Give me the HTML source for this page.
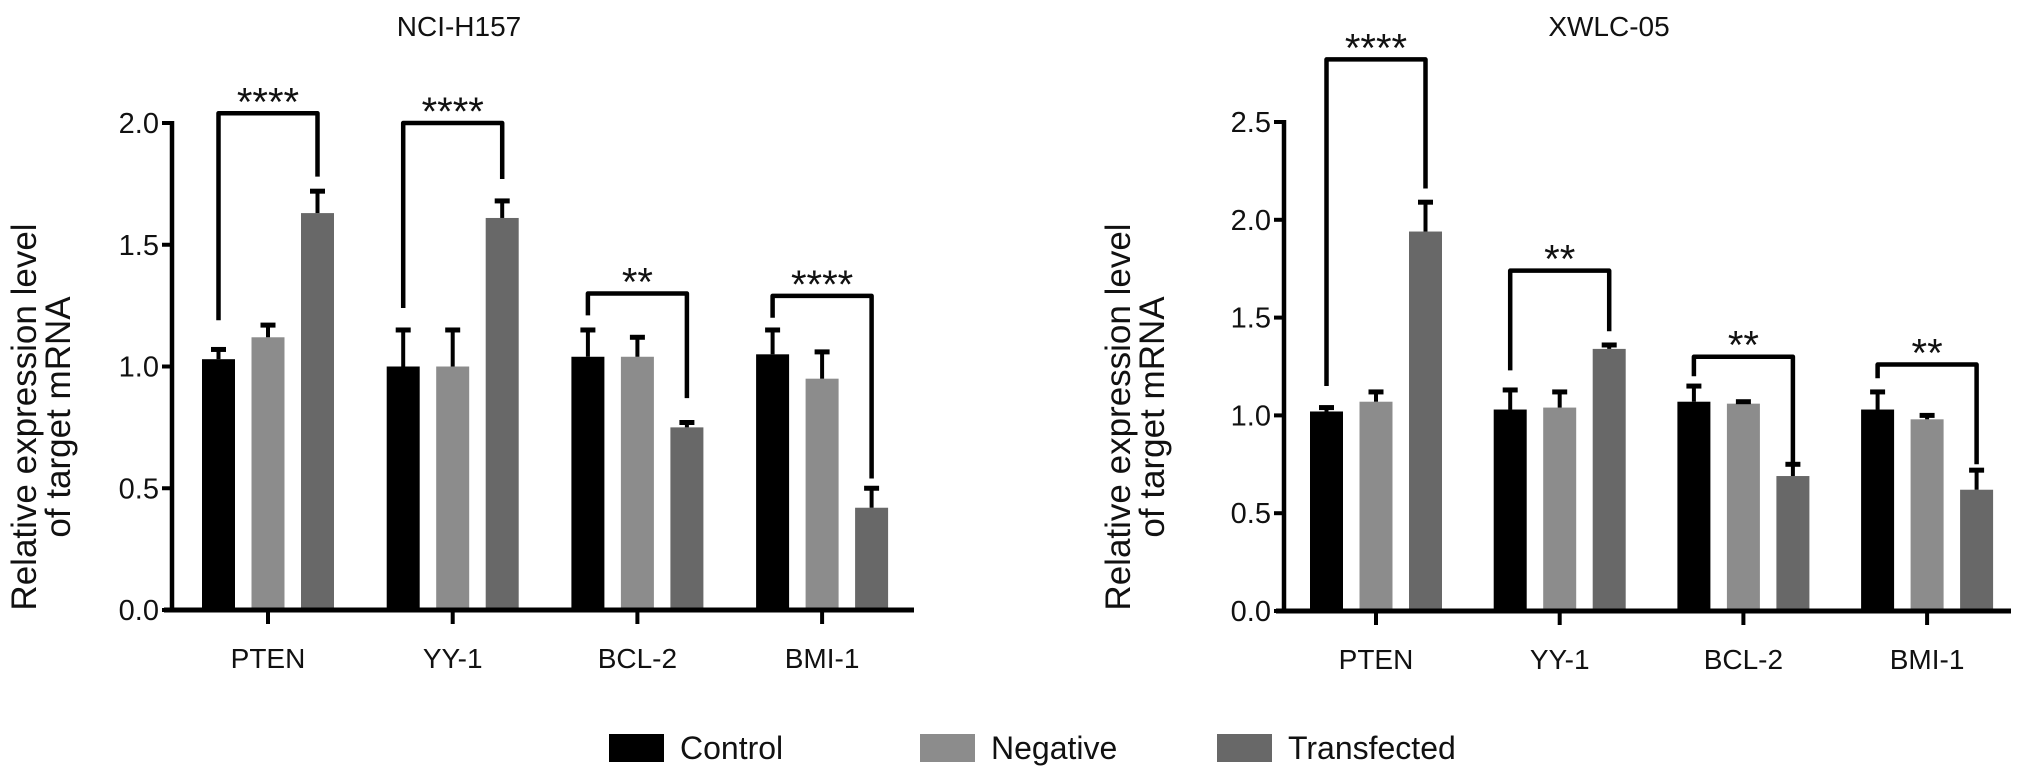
<!DOCTYPE html>
<html><head><meta charset="utf-8"><style>
html,body{margin:0;padding:0;background:#fff;}
svg{display:block;font-family:"Liberation Sans",Arial,sans-serif;}
</style></head><body>
<svg id="fig" width="2032" height="779" viewBox="0 0 2032 779" xmlns="http://www.w3.org/2000/svg"></svg>
<script>
const categories = ["PTEN","YY-1","BCL-2","BMI-1"];
const seriesNames = ["Control","Negative","Transfected"];
const seriesColors = ["#000000","#8c8c8c","#686868"];
// Left panel NCI-H157
const leftControl = [1.03,1.00,1.04,1.05];
const leftControlErr = [0.04,0.15,0.11,0.10];
const leftNegative = [1.12,1.00,1.04,0.95];
const leftNegativeErr = [0.05,0.15,0.08,0.11];
const leftTransfected = [1.63,1.61,0.75,0.42];
const leftTransfectedErr = [0.09,0.07,0.02,0.08];
const leftTicks = [0.0,0.5,1.0,1.5,2.0];
const leftTickLabels = ["0.0","0.5","1.0","1.5","2.0"];
const leftSig = ["****","****","**","****"];
const leftBracketTop = [2.04,2.00,1.30,1.29];
const leftBracketLeft = [1.19,1.24,1.21,1.20];
const leftBracketRight = [1.78,1.77,0.87,0.54];
// Right panel XWLC-05
const rightControl = [1.02,1.03,1.07,1.03];
const rightControlErr = [0.02,0.10,0.08,0.09];
const rightNegative = [1.07,1.04,1.06,0.98];
const rightNegativeErr = [0.05,0.08,0.01,0.02];
const rightTransfected = [1.94,1.34,0.69,0.62];
const rightTransfectedErr = [0.15,0.02,0.06,0.10];
const rightTicks = [0.0,0.5,1.0,1.5,2.0,2.5];
const rightTickLabels = ["0.0","0.5","1.0","1.5","2.0","2.5"];
const rightSig = ["****","**","**","**"];
const rightBracketTop = [2.82,1.74,1.30,1.26];
const rightBracketLeft = [1.15,1.23,1.20,1.19];
const rightBracketRight = [2.16,1.43,0.76,0.75];

const NS="http://www.w3.org/2000/svg";
const svg=document.getElementById('fig');
function mk(tag,attrs,parent){const e=document.createElementNS(NS,tag);for(const k in attrs)e.setAttribute(k,attrs[k]);(parent||svg).appendChild(e);return e;}

function panel(cfg){
  const g=mk('g',{});
  
  
  const y=v=>cfg.y0-(v/cfg.vmax)*(cfg.y0-cfg.yTop);
  const cx=i=>cfg.c0+i*cfg.step;
  const t=mk('text',{x:cfg.titleX,y:36,'font-size':28,'text-anchor':'middle',fill:'#111'},g);
  t.textContent=cfg.title;
  
  
  const yt=mk('text',{transform:`translate(${cfg.ytX},${cfg.ytY}) rotate(-90)`,'font-size':35,'text-anchor':'middle',fill:'#111'},g);
  
  
  const s1=mk('tspan',{x:0,dy:0},yt);s1.textContent='Relative expression level';
  const s2=mk('tspan',{x:0,dy:34},yt);s2.textContent='of target mRNA';
  const vals=[cfg.c,cfg.n,cfg.t], errs=[cfg.ce,cfg.ne,cfg.te];
  categories.forEach((cat,i)=>{
    for(let s=0;s<3;s++){
      const bx=cx(i)+(s-1)*49.5-16.5;
      const top=y(vals[s][i]);
      const r=mk('rect',{x:bx,y:top,width:33,height:cfg.y0-top,fill:seriesColors[s]},g);
      
      
      const et=y(vals[s][i]+errs[s][i]);
      const el=mk('line',{x1:bx+16.5,x2:bx+16.5,y1:top,y2:et,stroke:'#000','stroke-width':4},g);
      
      
      const cap=mk('line',{x1:bx+9,x2:bx+24,y1:et,y2:et,stroke:'#000','stroke-width':5},g);
      
      
    }
    const xl=cx(i)-49.5, xr=cx(i)+49.5;
    const bt=y(cfg.bt[i]);
    const br=mk('path',{d:`M${xl},${y(cfg.bl[i])} L${xl},${bt} L${xr},${bt} L${xr},${y(cfg.br[i])}`,fill:'none',stroke:'#000','stroke-width':4.5,'stroke-linejoin':'round'},g);
    
    
    const st=mk('text',{x:cx(i),y:bt+2,'font-size':40,'text-anchor':'middle',fill:'#111'},g);
    st.textContent=cfg.sig[i];
    
    
    const tk=mk('line',{x1:cx(i),x2:cx(i),y1:cfg.y0,y2:cfg.y0+14,stroke:'#000','stroke-width':4},g);
    
    
    const lb=mk('text',{x:cx(i),y:cfg.y0+58,'font-size':28,'text-anchor':'middle',fill:'#111'},g);
    lb.textContent=cat;
    
    
  });
  const ya=mk('line',{x1:cfg.ax,x2:cfg.ax,y1:y(cfg.vmax)-2,y2:cfg.y0+2,stroke:'#000','stroke-width':4.5},g);
  
  
  const xa=mk('line',{x1:cfg.ax-8,x2:cfg.xEnd,y1:cfg.y0,y2:cfg.y0,stroke:'#000','stroke-width':5},g);
  
  
  cfg.ticks.forEach((v,k)=>{
    const tl=mk('line',{x1:cfg.ax-10,x2:cfg.ax,y1:y(v),y2:y(v),stroke:'#000','stroke-width':4},g);
    
    
    const tx=mk('text',{x:cfg.ax-13,y:y(v)+10,'font-size':29,'text-anchor':'end',fill:'#111'},g);
    tx.textContent=cfg.tickLabels[k];
    
    
  });
}

panel({name:'chart-nci-h157',title:'NCI-H157',titleX:459,ytX:36,ytY:417,ax:172,y0:610,yTop:123,vmax:2.0,c0:268,step:184.7,xEnd:914,
  c:leftControl,ce:leftControlErr,n:leftNegative,ne:leftNegativeErr,t:leftTransfected,te:leftTransfectedErr,
  ticks:leftTicks,tickLabels:leftTickLabels,sig:leftSig,bt:leftBracketTop,bl:leftBracketLeft,br:leftBracketRight});
panel({name:'chart-xwlc-05',title:'XWLC-05',titleX:1609,ytX:1130,ytY:417,ax:1284,y0:611,yTop:122,vmax:2.5,c0:1376,step:183.7,xEnd:2011,
  c:rightControl,ce:rightControlErr,n:rightNegative,ne:rightNegativeErr,t:rightTransfected,te:rightTransfectedErr,
  ticks:rightTicks,tickLabels:rightTickLabels,sig:rightSig,bt:rightBracketTop,bl:rightBracketLeft,br:rightBracketRight});

const legendX=[609,920,1217];
const lg=mk('g',{});


seriesNames.forEach((nm,s)=>{
  const e=mk('g',{},lg);
  
  
  mk('rect',{x:legendX[s],y:734,width:55,height:28,fill:seriesColors[s]},e);
  const t=mk('text',{x:legendX[s]+71,y:759,'font-size':32,fill:'#111'},e);
  t.textContent=nm;
});
</script>
</body></html>
